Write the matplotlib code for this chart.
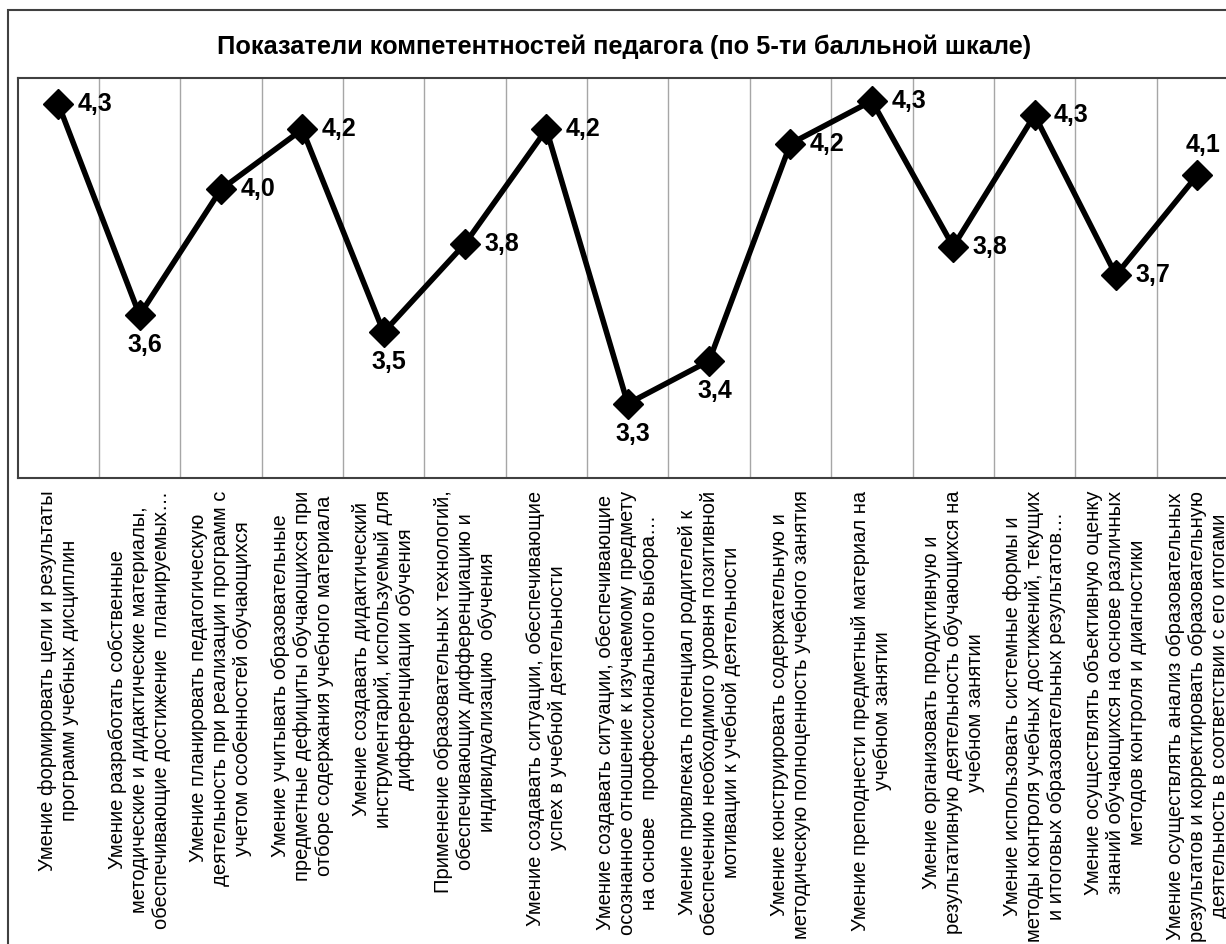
import numpy as np
import matplotlib.pyplot as plt
from matplotlib.patches import Rectangle

plt.rcParams['font.family'] = ['Liberation Sans', 'DejaVu Sans']

# Data
categories = [
    "Умение формировать цели и результаты\nпрограмм учебных дисциплин",
    "Умение разработать собственные\nметодические и дидактические материалы,\nобеспечивающие достижение  планируемых…",
    "Умение планировать педагогическую\nдеятельность при реализации программ с\nучетом особенностей обучающихся",
    "Умение учитывать образовательные\nпредметные дефициты обучающихся при\nотборе содержания учебного материала",
    "Умение создавать дидактический\nинструментарий, используемый для\nдифференциации обучения",
    "Применение образовательных технологий,\nобеспечивающих дифференциацию и\nиндивидуализацию  обучения",
    "Умение создавать ситуации, обеспечивающие\nуспех в учебной деятельности",
    "Умение создавать ситуации, обеспечивающие\nосознанное отношение к изучаемому предмету\nна основе   профессионального выбора…",
    "Умение привлекать потенциал родителей к\nобеспечению необходимого уровня позитивной\nмотивации к учебной деятельности",
    "Умение конструировать содержательную и\nметодическую полноценность учебного занятия",
    "Умение преподнести предметный материал на\nучебном занятии",
    "Умение организовать продуктивную и\nрезультативную деятельность обучающихся на\nучебном занятии",
    "Умение использовать системные формы и\nметоды контроля учебных достижений, текущих\nи итоговых образовательных результатов…",
    "Умение осуществлять объективную оценку\nзнаний обучающихся на основе различных\nметодов контроля и диагностики",
    "Умение осуществлять анализ образовательных\nрезультатов и корректировать образовательную\nдеятельность в соответствии с его итогами",
]
values = [4.31, 3.57, 4.01, 4.22, 3.51, 3.82, 4.22, 3.26, 3.41, 4.17, 4.32, 3.81, 4.27, 3.71, 4.06]
# where each data label sits: r = right, b = below, t = above
label_pos = ['r', 'b', 'r', 'r', 'b', 'r', 'r', 'b', 'b', 'r', 'r', 'r', 'r', 'r', 't']

W, H = 1226, 944
fig = plt.figure(figsize=(W / 100, H / 100), dpi=100)

# outer chart frame (picture is cropped on the right and bottom)
fig.patches.append(Rectangle((8 / W, -0.1), 1.2, (H - 10) / H + 0.1, transform=fig.transFigure,
                             fill=False, edgecolor='#404040', linewidth=1.5))

ax = fig.add_axes([17.5 / W, (H - 478) / H, 1220.5 / W, 400 / H])
x = np.arange(len(values))
ax.plot(x, values, color='black', linewidth=4, marker='D', markersize=15.5, zorder=3)

ax.set_xlim(-0.5, len(values) - 0.5)
ax.set_ylim(3.0, 4.4)
ax.set_yticks([])
ax.set_xticks(x)
ax.set_xticklabels(categories, rotation=90, ha='center', va='top', multialignment='center',
                   fontsize=14.5)
ax.set_xticks(np.arange(0.5, len(values) - 1, 1), minor=True)
ax.tick_params(axis='x', which='both', length=0, pad=9)
ax.grid(axis='x', which='minor', color='#a6a6a6', linewidth=1)
for s in ax.spines.values():
    s.set_color('#404040')
    s.set_linewidth(1.5)

offsets = {'r': (14, 0, 'left', 'center'), 'b': (4, -13, 'center', 'top'), 't': (4, 13, 'center', 'bottom')}
for xi, v, p in zip(x, values, label_pos):
    dx, dy, ha, va = offsets[p]
    ax.annotate(f"{v:.1f}".replace('.', ','), (xi, v), xytext=(dx, dy), textcoords='offset points',
                ha=ha, va=va, fontsize=18, fontweight='bold')

fig.text(624 / W, 1 - 47 / H, "Показатели компетентностей педагога (по 5-ти балльной шкале)",
         ha='center', va='center', fontsize=18.3, fontweight='bold')

plt.savefig("out.png", dpi=100)
